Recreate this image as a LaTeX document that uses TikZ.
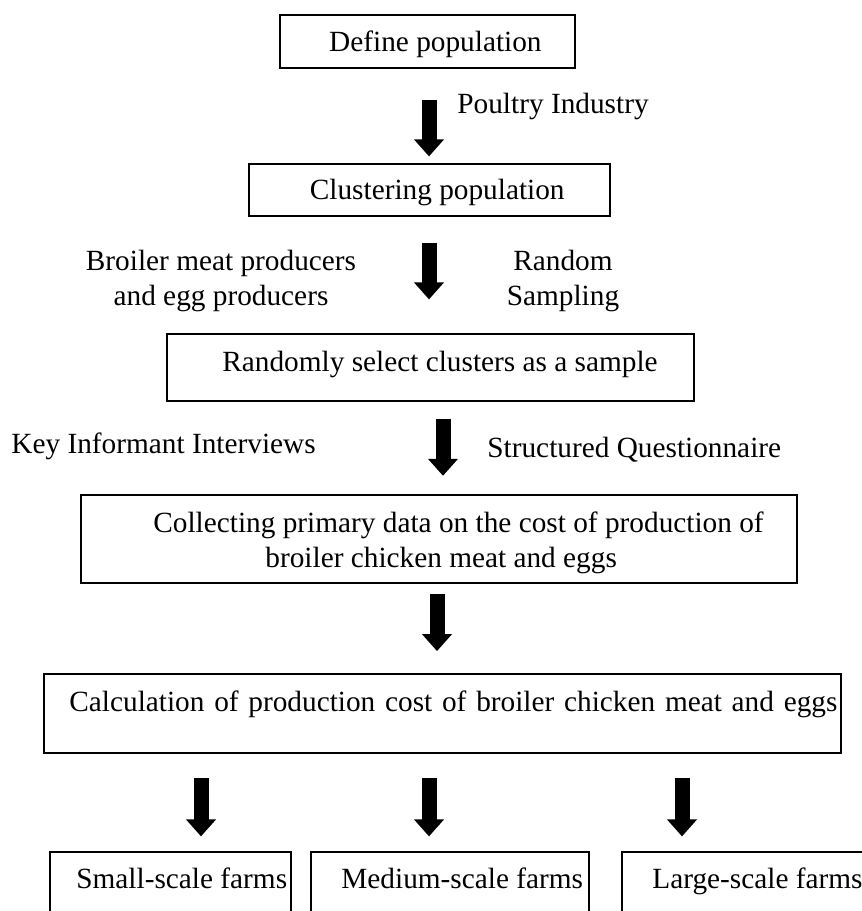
\documentclass[tikz,border=0pt]{standalone}
\usepackage{fontspec}
\setmainfont{Liberation Serif}
\usetikzlibrary{arrows.meta,calc}
\begin{document}
\begin{tikzpicture}[x=0.5pt,y=-0.5pt,
  box/.style={draw,line width=0.6pt,inner sep=0pt,rectangle},
  thickbox/.style={box,line width=1.2pt},
  midbox/.style={box,line width=0.9pt},
  txt/.style={inner sep=0pt,font=\fontsize{14.65pt}{17.5pt}\selectfont},
  blk/.style={line width=7.5pt,-{Triangle[width=14.5pt,length=8.5pt]}}]
\useasboundingbox (0,0) rectangle (862,911);
\clip (0,0) rectangle (862,911);
% boxes
\node[box,minimum width=147.5pt,minimum height=26.5pt] (b1) at (427.5,41.5) {};
\node[box,minimum width=180.5pt,minimum height=26pt] (b2) at (429.5,190) {};
\node[box,minimum width=263.5pt,minimum height=33.5pt] (b3) at (430.5,367.5) {};
\node[thickbox,minimum width=358pt,minimum height=44pt] (b4) at (439,539) {};
\node[midbox,minimum width=398.5pt,minimum height=39.5pt] (b5) at (442.5,713.5) {};
\node[box,minimum width=120.5pt,minimum height=44pt] (s1) at (170.5,896) {};
\node[box,minimum width=139pt,minimum height=44pt] (s2) at (450,896) {};
\node[box,minimum width=139pt,minimum height=44pt] (s3) at (761,896) {};
% texts
\node[txt,anchor=base east] (t1) at (542,51) {Define population};
\node[txt,anchor=base east] (t2) at (565,199) {Clustering population};
\node[txt,anchor=base] (t3) at (440,371) {Randomly select clusters as a sample};
\node[txt,anchor=base west] (t4a) at (153,532) {Collecting primary data on the cost of production of};
\node[txt,anchor=base west] (t4b) at (265,567) {broiler chicken meat and eggs};
\node[txt,anchor=base west] (t5) at (69,711) {\makebox[384pt][s]{Calculation of production cost of broiler chicken meat and eggs}};
\node[txt,anchor=base west] (u1) at (76,888) {Small-scale farms};
\node[txt,anchor=base west] (u2) at (341,888) {Medium-scale farms};
\node[txt,anchor=base west] (u3) at (652,888) {Large-scale farms};
% side labels
\node[txt,anchor=base west] (l1) at (457,113) {Poultry Industry};
\node[txt,anchor=base] (l2a) at (221,270) {Broiler meat producers};
\node[txt,anchor=base] (l2b) at (221,305) {and egg producers};
\node[txt,anchor=base] (l3a) at (563,270) {Random};
\node[txt,anchor=base] (l3b) at (563,305) {Sampling};
\node[txt,anchor=base west] (l4) at (11,453) {Key Informant Interviews};
\node[txt,anchor=base west] (l5) at (487,457) {Structured Questionnaire};
% arrows
\draw[blk] ($(b1.south)+(1.5,31)$) -- ($(b2.north)+(-0.5,-7)$);
\draw[blk] ($(b2.south)+(-0.5,26)$) -- ($(b3.north)+(-1.5,-34)$);
\draw[blk] ($(b3.south)+(12.5,17)$) -- ($(b4.north)+(4,-18)$);
\draw[blk] ($(b4.south)+(-2,10)$) -- ($(b5.north)+(-5.5,-22)$);
\draw[blk] ($(b5.south)+(-241.5,24)$) -- ($(s1.north)+(30.5,-15)$);
\draw[blk] ($(b5.south)+(-13.5,24)$) -- ($(s2.north)+(-21,-15)$);
\draw[blk] ($(b5.south)+(239.5,24)$) -- ($(s3.north)+(-79,-15)$);
\end{tikzpicture}
\end{document}
